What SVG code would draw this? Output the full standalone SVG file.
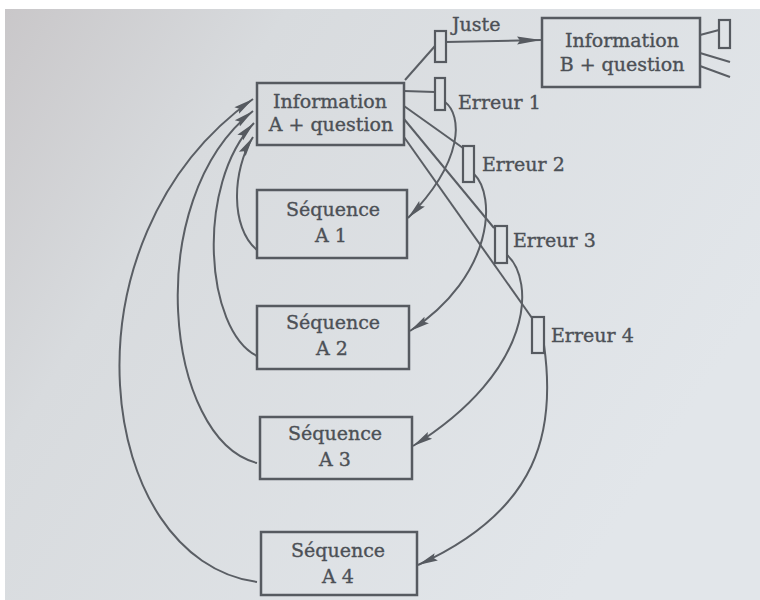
<svg xmlns="http://www.w3.org/2000/svg" width="760" height="600" viewBox="0 0 760 600">
  <defs>
    <linearGradient id="page" x1="0" y1="0" x2="1" y2="0.5">
      <stop offset="0" stop-color="#c9c7c9"/>
      <stop offset="0.3" stop-color="#d8dbde"/>
      <stop offset="1" stop-color="#e2e6ea"/>
    </linearGradient>
    <marker id="arr" viewBox="0 0 20 10" refX="20" refY="5" markerWidth="20" markerHeight="10" markerUnits="userSpaceOnUse" orient="auto">
      <path d="M0,1 L20,5 L0,9 L3,5 z" fill="#565a60"/>
    </marker>
    <marker id="arrL" viewBox="0 0 24 10" refX="24" refY="5" markerWidth="24" markerHeight="10" markerUnits="userSpaceOnUse" orient="auto">
      <path d="M0,1 L24,5 L0,9 L3,5 z" fill="#565a60"/>
    </marker>
  </defs>
  <style>
    .box { fill: none; stroke: #565a60; stroke-width: 2.5; }
    .gate { fill: none; stroke: #565a60; stroke-width: 2.2; }
    .ln { fill: none; stroke: #5a5e64; stroke-width: 2; }
    .arw { fill: none; stroke: #5a5e64; stroke-width: 2; marker-end: url(#arr); }
    .arwL { fill: none; stroke: #5a5e64; stroke-width: 2; marker-end: url(#arrL); }
    text { font-family: "DejaVu Serif", "Liberation Serif", serif; font-size: 19px; fill: #4c5056; stroke: #4c5056; stroke-width: 0.35; }
    .c { text-anchor: middle; }
  </style>

  <rect x="0" y="0" width="760" height="600" fill="#ffffff"/>
  <rect x="5" y="9" width="755" height="591" fill="url(#page)"/>

  <g id="connectors">
    <!-- A to gates -->
    <line class="ln" x1="405" y1="80" x2="435" y2="46"/>
    <line class="ln" x1="404" y1="91" x2="435" y2="92"/>
    <line class="ln" x1="404" y1="106" x2="463" y2="148"/>
    <line class="ln" x1="404" y1="119" x2="494" y2="228"/>
    <line class="ln" x1="404" y1="137" x2="532" y2="318"/>
    <!-- Juste to B -->
    <line class="arwL" x1="446" y1="42" x2="541" y2="40"/>
    <!-- B outputs -->
    <line class="ln" x1="700" y1="35" x2="719" y2="30"/>
    <line class="ln" x1="700" y1="53" x2="730" y2="62"/>
    <line class="ln" x1="700" y1="66" x2="730" y2="77"/>
    <!-- errors to sequences -->
    <path class="arw" d="M445,102 C462,115 465,160 408,218"/>
    <path class="arw" d="M474,174 C496,195 495,275 410,331"/>
    <path class="arw" d="M507,255 C535,280 535,370 413,446"/>
    <path class="arw" d="M544,345 C556,430 540,510 418,565"/>
    <!-- sequences back to A -->
    <path class="arw" d="M257,250 C230,228 232,170 253,137"/>
    <path class="arw" d="M257,356 C205,330 195,185 254,123"/>
    <path class="arw" d="M257,463 C165,440 140,200 253,111"/>
    <path class="arw" d="M257,582 C95,560 55,240 253,99"/>
  </g>

  <g id="infoA">
    <rect class="box" x="257" y="83" width="147" height="62"/>
    <text class="c" x="330" y="108">Information</text>
    <text class="c" x="331" y="131">A + question</text>
  </g>

  <g id="infoB">
    <rect class="box" x="542" y="18" width="158" height="69"/>
    <text class="c" x="622" y="47">Information</text>
    <text class="c" x="622" y="71">B + question</text>
  </g>
  <g id="gateB">
    <rect class="gate" x="719" y="20" width="11" height="28"/>
  </g>

  <g id="juste">
    <rect class="gate" x="435" y="31" width="11" height="31"/>
    <text x="452" y="31">Juste</text>
  </g>
  <g id="erreur1">
    <rect class="gate" x="435" y="78" width="10" height="32"/>
    <text x="458" y="109">Erreur 1</text>
  </g>
  <g id="erreur2">
    <rect class="gate" x="463" y="146" width="11" height="36"/>
    <text x="482" y="171">Erreur 2</text>
  </g>
  <g id="erreur3">
    <rect class="gate" x="495" y="226" width="12" height="37"/>
    <text x="513" y="247">Erreur 3</text>
  </g>
  <g id="erreur4">
    <rect class="gate" x="532" y="317" width="12" height="36"/>
    <text x="551" y="342">Erreur 4</text>
  </g>

  <g id="seqA1">
    <rect class="box" x="257" y="190" width="150" height="68"/>
    <text class="c" x="333" y="216">Séquence</text>
    <text class="c" x="331" y="242">A 1</text>
  </g>
  <g id="seqA2">
    <rect class="box" x="257" y="306" width="152" height="63"/>
    <text class="c" x="333" y="329">Séquence</text>
    <text class="c" x="332" y="355">A 2</text>
  </g>
  <g id="seqA3">
    <rect class="box" x="260" y="417" width="152" height="62"/>
    <text class="c" x="335" y="440">Séquence</text>
    <text class="c" x="335" y="466">A 3</text>
  </g>
  <g id="seqA4">
    <rect class="box" x="261" y="532" width="156" height="63"/>
    <text class="c" x="338" y="557">Séquence</text>
    <text class="c" x="338" y="583">A 4</text>
  </g>
</svg>
